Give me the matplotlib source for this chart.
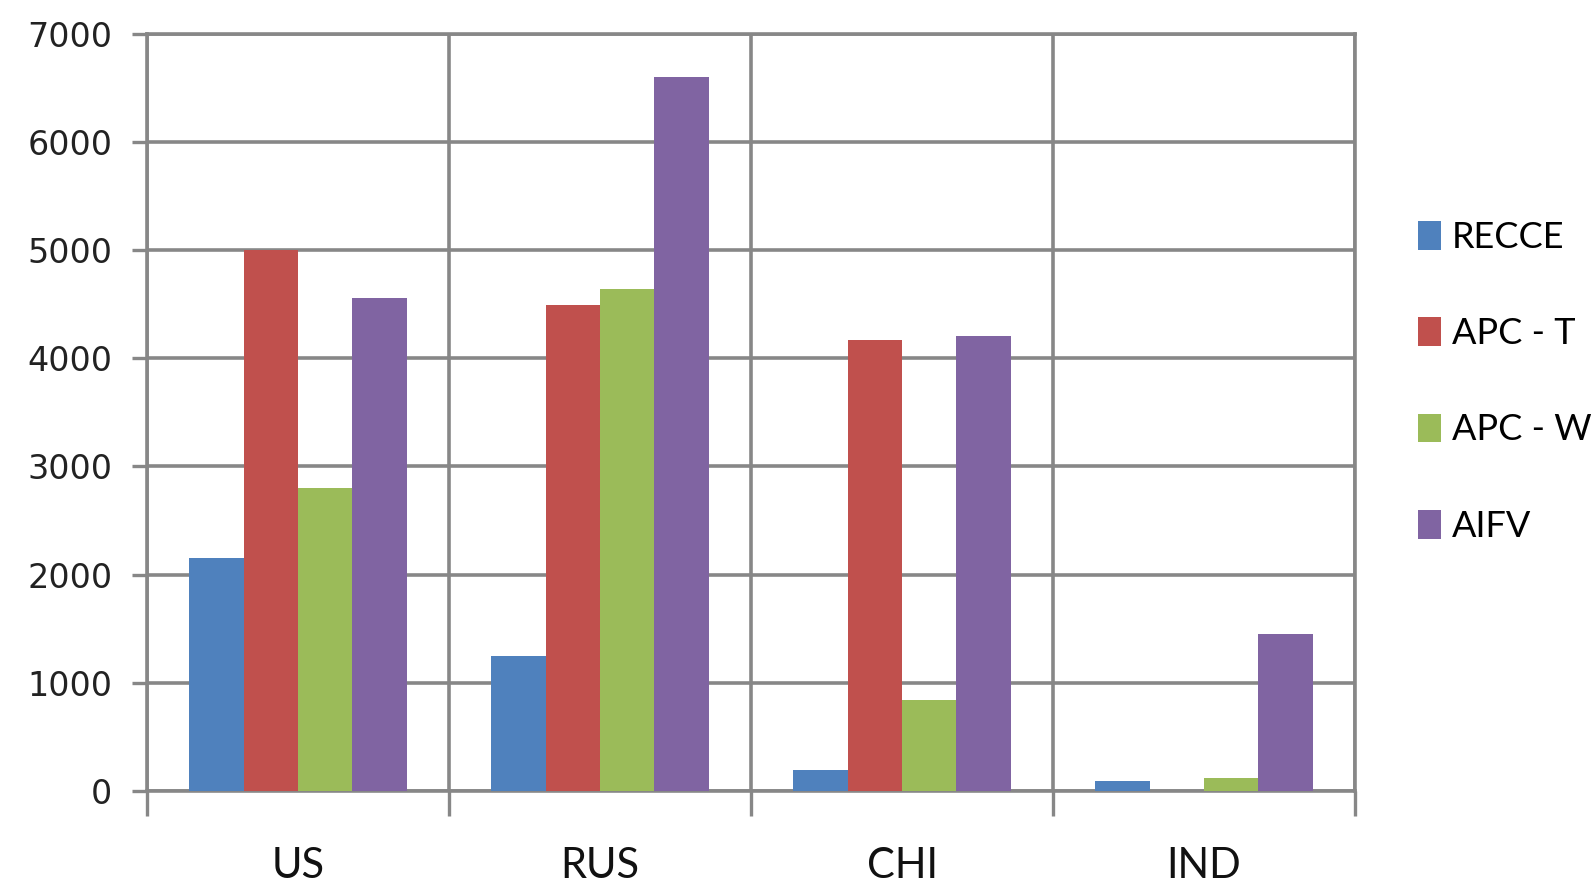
import numpy as np
import matplotlib.pyplot as plt

countries = ["US", "RUS", "CHI", "IND"]
series = ["RECCE", "APC - T", "APC - W", "AIFV"]
recce = [2150, 1250, 200, 90]
apc_t = [5000, 4490, 4170, 0]
apc_w = [2800, 4640, 840, 120]
aifv = [4560, 6600, 4210, 1450]
colors = ["#4f81bd", "#c0504d", "#9bbb59", "#8064a2"]
yticks = [0, 1000, 2000, 3000, 4000, 5000, 6000, 7000]

grid_col = "#878787"
narrow = ["Lato", "DejaVu Sans"]

fig = plt.figure(figsize=(15.91, 8.84), dpi=100)
ax = fig.add_axes([0.0924, 0.105, 0.7593, 0.857])

x = np.arange(len(countries))
w = 0.18
for i, (name, vals) in enumerate(zip(series, [recce, apc_t, apc_w, aifv])):
    ax.bar(x + (i - 1.5) * w, vals, width=w, color=colors[i], label=name, zorder=3)

ax.set_xlim(-0.5, len(countries) - 0.5)
ax.set_ylim(0, 7000)
ax.set_yticks(yticks)
ax.set_yticklabels([str(v) for v in yticks], fontsize=24, color="#222222")

# category boundaries carry the vertical grid and the outward tick marks
ax.set_xticks(np.arange(len(countries) + 1) - 0.5)
ax.set_xticklabels([])
ax.set_xticks(x, minor=True)
ax.set_xticklabels(countries, minor=True, fontsize=30, family=narrow, color="#111111")
ax.tick_params(axis="x", which="minor", length=0, pad=40)
ax.tick_params(axis="x", which="major", length=18, width=2.4, color=grid_col, direction="out")
ax.tick_params(axis="y", length=11, width=2.4, color=grid_col, direction="out", pad=14)

ax.grid(True, which="major", color=grid_col, linewidth=2.6, zorder=0)
for s in ax.spines.values():
    s.set_color(grid_col)
    s.set_linewidth(2.6)

fig.legend(loc="center left", bbox_to_anchor=(0.882, 0.568), frameon=False,
           prop={"family": narrow, "size": 26}, handlelength=0.65, handleheight=0.85,
           handletextpad=0.3, labelspacing=1.75, borderaxespad=0)

fig.savefig("out.png", dpi=100)
